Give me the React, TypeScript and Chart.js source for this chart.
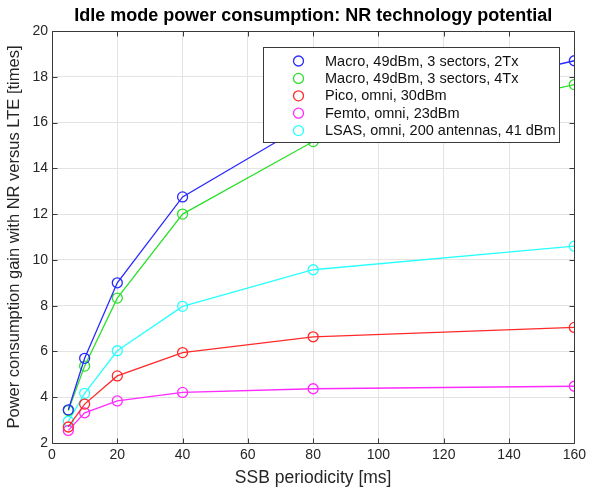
import React, { useEffect, useRef } from "react";
import { Chart, registerables } from "chart.js";

Chart.register(...registerables);

const titleText = "Idle mode power consumption: NR technology potential";
const xTitle = "SSB periodicity [ms]";
const yTitle = "Power consumption gain with NR versus LTE [times]";

const periodicities = [5, 10, 20, 40, 80, 160];
const macro2Tx = [3.45, 5.7, 9.0, 12.75, 16.1, 18.7];
const macro4Tx = [3.42, 5.36, 8.33, 12.0, 15.17, 17.66];
const pico = [2.7, 3.7, 4.93, 5.95, 6.64, 7.05];
const femto = [2.55, 3.32, 3.84, 4.21, 4.37, 4.48];
const lsas = [2.95, 4.17, 6.03, 7.97, 9.57, 10.6];

const seriesLabels = [
  "Macro, 49dBm, 3 sectors, 2Tx",
  "Macro, 49dBm, 3 sectors, 4Tx",
  "Pico, omni, 30dBm",
  "Femto, omni, 23dBm",
  "LSAS, omni, 200 antennas, 41 dBm",
];
const seriesColors = ["#2a2aff", "#2ee02e", "#ff2a2a", "#ff2aff", "#2affff"];
const seriesValues = [macro2Tx, macro4Tx, pico, femto, lsas];

const xTicks = [0, 20, 40, 60, 80, 100, 120, 140, 160];
const yTicks = [2, 4, 6, 8, 10, 12, 14, 16, 18, 20];

const FONT = "'Liberation Sans', Arial, Helvetica, sans-serif";

const boxPlugin = {
  id: "matlabBox",
  afterDatasetsDraw(chart: any) {
    const { ctx, chartArea } = chart;
    const xs = chart.scales.x;
    const ys = chart.scales.y;
    const l = Math.round(chartArea.left) + 0.5;
    const r = Math.round(chartArea.right) + 0.5;
    const t = Math.round(chartArea.top) + 0.5;
    const b = Math.round(chartArea.bottom) + 0.5;
    ctx.save();
    ctx.strokeStyle = "#3a3a3a";
    ctx.lineWidth = 1;
    ctx.beginPath();
    ctx.rect(l, t, r - l, b - t);
    const tl = 5;
    xTicks.forEach((v) => {
      const px = Math.round(xs.getPixelForValue(v)) + 0.5;
      ctx.moveTo(px, b);
      ctx.lineTo(px, b - tl);
      ctx.moveTo(px, t);
      ctx.lineTo(px, t + tl);
    });
    yTicks.forEach((v) => {
      const py = Math.round(ys.getPixelForValue(v)) + 0.5;
      ctx.moveTo(l, py);
      ctx.lineTo(l + tl, py);
      ctx.moveTo(r, py);
      ctx.lineTo(r - tl, py);
    });
    ctx.stroke();
    ctx.restore();
  },
  afterDraw(chart: any) {
    const { ctx, chartArea } = chart;
    ctx.save();
    // title
    ctx.fillStyle = "#000000";
    ctx.font = `bold 18px ${FONT}`;
    ctx.textAlign = "center";
    ctx.textBaseline = "middle";
    ctx.fillText(titleText, (chartArea.left + chartArea.right) / 2, 16);
    // legend
    const bx = 263.5, by = 47.5, bw = 296, bh = 95;
    ctx.fillStyle = "#ffffff";
    ctx.fillRect(bx, by, bw, bh);
    ctx.strokeStyle = "#3a3a3a";
    ctx.lineWidth = 1;
    ctx.strokeRect(bx, by, bw, bh);
    ctx.font = `14.5px ${FONT}`;
    ctx.textAlign = "left";
    chart.data.datasets.forEach((ds: any, i: number) => {
      const cy = 61 + i * 17.4;
      ctx.beginPath();
      ctx.strokeStyle = ds.borderColor;
      ctx.lineWidth = 1.3;
      ctx.arc(298.5, cy, 5, 0, Math.PI * 2);
      ctx.stroke();
      ctx.fillStyle = "#111111";
      ctx.fillText(ds.label, 325, cy + 0.5);
    });
    ctx.restore();
  },
};

export default function App() {
  const ref = useRef<HTMLCanvasElement>(null);
  useEffect(() => {
    if (!ref.current) return;
    const chart = new Chart(ref.current, {
      type: "line",
      data: {
        datasets: seriesValues.map((vals, i) => ({
          label: seriesLabels[i],
          data: vals.map((v, j) => ({ x: periodicities[j], y: v })),
          borderColor: seriesColors[i],
          backgroundColor: "rgba(0,0,0,0)",
          borderWidth: 1.3,
          pointRadius: 5,
          pointBorderWidth: 1.3,
          pointBackgroundColor: "rgba(0,0,0,0)",
          pointBorderColor: seriesColors[i],
          tension: 0,
          fill: false,
        })),
      },
      options: {
        animation: false,
        responsive: false,
        maintainAspectRatio: false,
        devicePixelRatio: 1,
        layout: { padding: { top: 31, right: 13, bottom: 0, left: 0 } },
        plugins: {
          legend: { display: false },
          title: { display: false },
          tooltip: { enabled: false },
        },
        scales: {
          x: {
            type: "linear",
            min: 0,
            max: 160,
            afterFit: (s: any) => {
              s.height = 47;
            },
            afterBuildTicks: (s: any) => {
              s.ticks = xTicks.map((v) => ({ value: v }));
            },
            ticks: {
              color: "#262626",
              font: { family: FONT, size: 14 },
              padding: 4,
              maxRotation: 0,
            },
            grid: { color: "#e3e3e3", drawTicks: false, lineWidth: 1 },
            border: { display: false },
            title: {
              display: true,
              text: xTitle,
              color: "#262626",
              font: { family: FONT, size: 17.5 },
              padding: { top: 0, bottom: 1.5 },
            },
          },
          y: {
            type: "linear",
            min: 2,
            max: 20,
            afterFit: (s: any) => {
              s.width = 52;
            },
            afterBuildTicks: (s: any) => {
              s.ticks = yTicks.map((v) => ({ value: v }));
            },
            ticks: {
              color: "#262626",
              font: { family: FONT, size: 14 },
              padding: 4,
            },
            grid: { color: "#e3e3e3", drawTicks: false, lineWidth: 1 },
            border: { display: false },
            title: {
              display: true,
              text: yTitle,
              color: "#262626",
              font: { family: FONT, size: 16.5 },
              padding: { top: 5, bottom: 0 },
            },
          },
        },
      },
      plugins: [boxPlugin],
    });
    return () => chart.destroy();
  }, []);
  return (
    <div style={{ position: "absolute", left: 0, top: 0, width: 590, height: 490, background: "#ffffff" }}>
      <canvas ref={ref} width={590} height={490} style={{ width: 590, height: 490 }} />
    </div>
  );
}
